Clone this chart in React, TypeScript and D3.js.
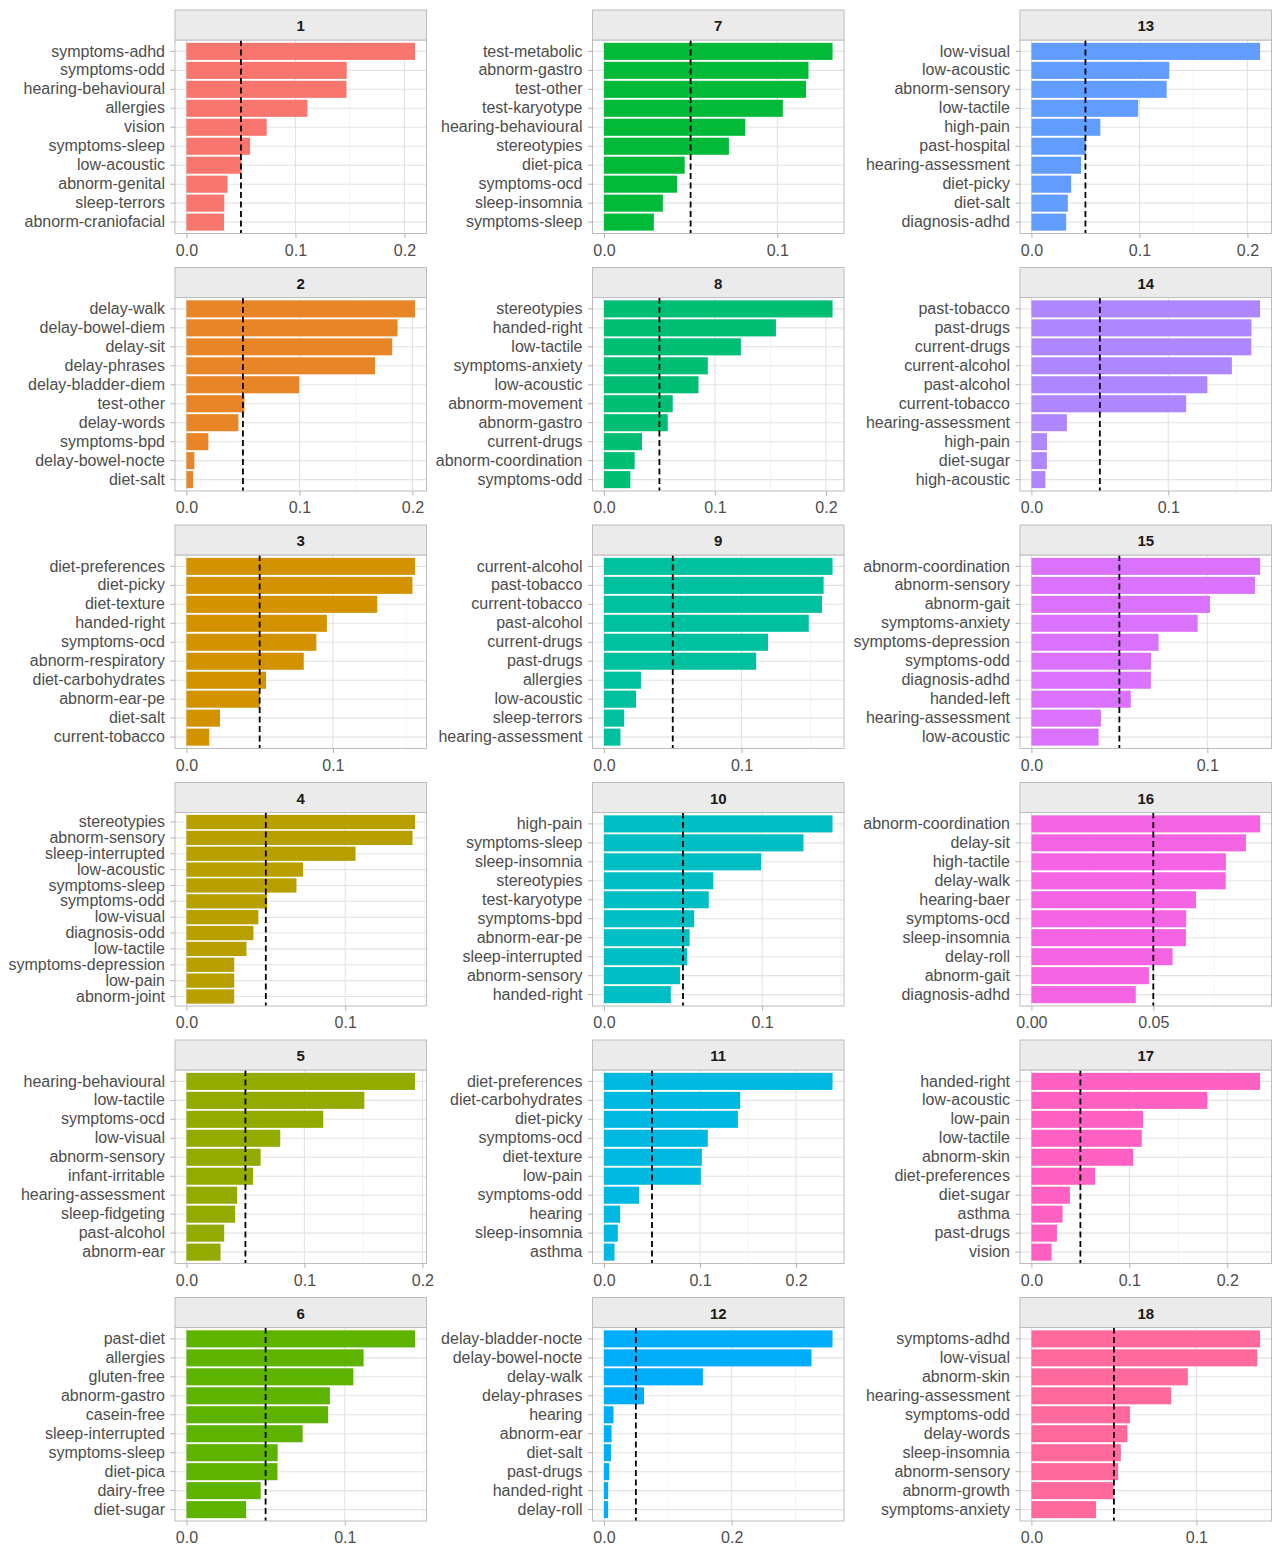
import React, { useRef, useEffect } from 'react';
import * as d3 from 'd3';

// feature importance per cluster, top to bottom as drawn
const features1 = ['symptoms-adhd', 'symptoms-odd', 'hearing-behavioural', 'allergies', 'vision', 'symptoms-sleep', 'low-acoustic', 'abnorm-genital', 'sleep-terrors', 'abnorm-craniofacial'];
const importance1 = [0.2097, 0.147, 0.1468, 0.111, 0.0736, 0.0584, 0.0505, 0.0377, 0.0347, 0.0345];

const features2 = ['delay-walk', 'delay-bowel-diem', 'delay-sit', 'delay-phrases', 'delay-bladder-diem', 'test-other', 'delay-words', 'symptoms-bpd', 'delay-bowel-nocte', 'diet-salt'];
const importance2 = [0.2023, 0.1868, 0.1821, 0.1669, 0.0997, 0.0513, 0.046, 0.0194, 0.007, 0.0059];

const features3 = ['diet-preferences', 'diet-picky', 'diet-texture', 'handed-right', 'symptoms-ocd', 'abnorm-respiratory', 'diet-carbohydrates', 'abnorm-ear-pe', 'diet-salt', 'current-tobacco'];
const importance3 = [0.1561, 0.1543, 0.1303, 0.0959, 0.0887, 0.0801, 0.0543, 0.0502, 0.0229, 0.0156];

const features4 = ['stereotypies', 'abnorm-sensory', 'sleep-interrupted', 'low-acoustic', 'symptoms-sleep', 'symptoms-odd', 'low-visual', 'diagnosis-odd', 'low-tactile', 'symptoms-depression', 'low-pain', 'abnorm-joint'];
const importance4 = [0.144, 0.1424, 0.1065, 0.0735, 0.0693, 0.0509, 0.0453, 0.0422, 0.0378, 0.0301, 0.0301, 0.0301];

const features5 = ['hearing-behavioural', 'low-tactile', 'symptoms-ocd', 'low-visual', 'abnorm-sensory', 'infant-irritable', 'hearing-assessment', 'sleep-fidgeting', 'past-alcohol', 'abnorm-ear'];
const importance5 = [0.1938, 0.1508, 0.116, 0.0795, 0.0629, 0.0565, 0.043, 0.0413, 0.032, 0.0289];

const features6 = ['past-diet', 'allergies', 'gluten-free', 'abnorm-gastro', 'casein-free', 'sleep-interrupted', 'symptoms-sleep', 'diet-pica', 'dairy-free', 'diet-sugar'];
const importance6 = [0.1444, 0.1119, 0.1054, 0.0906, 0.0895, 0.0734, 0.0576, 0.0575, 0.0469, 0.0377];

const features7 = ['test-metabolic', 'abnorm-gastro', 'test-other', 'test-karyotype', 'hearing-behavioural', 'stereotypies', 'diet-pica', 'symptoms-ocd', 'sleep-insomnia', 'symptoms-sleep'];
const importance7 = [0.1319, 0.118, 0.1166, 0.1032, 0.0815, 0.0721, 0.0466, 0.0422, 0.034, 0.0288];

const features8 = ['stereotypies', 'handed-right', 'low-tactile', 'symptoms-anxiety', 'low-acoustic', 'abnorm-movement', 'abnorm-gastro', 'current-drugs', 'abnorm-coordination', 'symptoms-odd'];
const importance8 = [0.206, 0.155, 0.1234, 0.0936, 0.0852, 0.062, 0.0575, 0.0343, 0.0277, 0.0238];

const features9 = ['current-alcohol', 'past-tobacco', 'current-tobacco', 'past-alcohol', 'current-drugs', 'past-drugs', 'allergies', 'low-acoustic', 'sleep-terrors', 'hearing-assessment'];
const importance9 = [0.1661, 0.1596, 0.1584, 0.1488, 0.1192, 0.1106, 0.0269, 0.0233, 0.0147, 0.012];

const features10 = ['high-pain', 'symptoms-sleep', 'sleep-insomnia', 'stereotypies', 'test-karyotype', 'symptoms-bpd', 'abnorm-ear-pe', 'sleep-interrupted', 'abnorm-sensory', 'handed-right'];
const importance10 = [0.1446, 0.1262, 0.0994, 0.0692, 0.0663, 0.0571, 0.0542, 0.0527, 0.0481, 0.0423];

const features11 = ['diet-preferences', 'diet-carbohydrates', 'diet-picky', 'symptoms-ocd', 'diet-texture', 'low-pain', 'symptoms-odd', 'hearing', 'sleep-insomnia', 'asthma'];
const importance11 = [0.2379, 0.1418, 0.1394, 0.1081, 0.1019, 0.1009, 0.0365, 0.0169, 0.0145, 0.011];

const features12 = ['delay-bladder-nocte', 'delay-bowel-nocte', 'delay-walk', 'delay-phrases', 'hearing', 'abnorm-ear', 'diet-salt', 'past-drugs', 'handed-right', 'delay-roll'];
const importance12 = [0.358, 0.325, 0.155, 0.0627, 0.015, 0.012, 0.011, 0.0083, 0.0067, 0.0066];

const features13 = ['low-visual', 'low-acoustic', 'abnorm-sensory', 'low-tactile', 'high-pain', 'past-hospital', 'hearing-assessment', 'diet-picky', 'diet-salt', 'diagnosis-adhd'];
const importance13 = [0.2117, 0.1276, 0.1252, 0.0988, 0.0638, 0.0503, 0.046, 0.0368, 0.0337, 0.0322];

const features14 = ['past-tobacco', 'past-drugs', 'current-drugs', 'current-alcohol', 'past-alcohol', 'current-tobacco', 'hearing-assessment', 'high-pain', 'diet-sugar', 'high-acoustic'];
const importance14 = [0.1671, 0.1608, 0.1607, 0.1465, 0.1286, 0.1131, 0.0259, 0.0114, 0.0113, 0.0102];

const features15 = ['abnorm-coordination', 'abnorm-sensory', 'abnorm-gait', 'symptoms-anxiety', 'symptoms-depression', 'symptoms-odd', 'diagnosis-adhd', 'handed-left', 'hearing-assessment', 'low-acoustic'];
const importance15 = [0.13, 0.1271, 0.1015, 0.0945, 0.0723, 0.068, 0.0679, 0.0565, 0.0395, 0.0382];

const features16 = ['abnorm-coordination', 'delay-sit', 'high-tactile', 'delay-walk', 'hearing-baer', 'symptoms-ocd', 'sleep-insomnia', 'delay-roll', 'abnorm-gait', 'diagnosis-adhd'];
const importance16 = [0.0938, 0.088, 0.0798, 0.0797, 0.0675, 0.0635, 0.0634, 0.0579, 0.0482, 0.0428];

const features17 = ['handed-right', 'low-acoustic', 'low-pain', 'low-tactile', 'abnorm-skin', 'diet-preferences', 'diet-sugar', 'asthma', 'past-drugs', 'vision'];
const importance17 = [0.2335, 0.1797, 0.114, 0.1127, 0.1039, 0.065, 0.0393, 0.0318, 0.026, 0.0206];

const features18 = ['symptoms-adhd', 'low-visual', 'abnorm-skin', 'hearing-assessment', 'symptoms-odd', 'delay-words', 'sleep-insomnia', 'abnorm-sensory', 'abnorm-growth', 'symptoms-anxiety'];
const importance18 = [0.1386, 0.1369, 0.0948, 0.0847, 0.0598, 0.0582, 0.0542, 0.0526, 0.0498, 0.0392];

const threshold = 0.05;

const panelTicks = [
  [0, 0.1, 0.2], [0, 0.1, 0.2], [0, 0.1], [0, 0.1], [0, 0.1, 0.2], [0, 0.1],
  [0, 0.1], [0, 0.1, 0.2], [0, 0.1], [0, 0.1], [0, 0.1, 0.2], [0, 0.2],
  [0, 0.1, 0.2], [0, 0.1], [0, 0.1], [0, 0.05], [0, 0.1, 0.2], [0, 0.1],
];
const panelTickLabels = [
  ['0.0', '0.1', '0.2'], ['0.0', '0.1', '0.2'], ['0.0', '0.1'], ['0.0', '0.1'], ['0.0', '0.1', '0.2'], ['0.0', '0.1'],
  ['0.0', '0.1'], ['0.0', '0.1', '0.2'], ['0.0', '0.1'], ['0.0', '0.1'], ['0.0', '0.1', '0.2'], ['0.0', '0.2'],
  ['0.0', '0.1', '0.2'], ['0.0', '0.1'], ['0.0', '0.1'], ['0.00', '0.05'], ['0.0', '0.1', '0.2'], ['0.0', '0.1'],
];

const allFeatures = [features1, features2, features3, features4, features5, features6, features7, features8, features9,
  features10, features11, features12, features13, features14, features15, features16, features17, features18];
const allImportance = [importance1, importance2, importance3, importance4, importance5, importance6, importance7, importance8, importance9,
  importance10, importance11, importance12, importance13, importance14, importance15, importance16, importance17, importance18];

// ggplot-style hue palette (polar LUV)
function hueColor(h: number, c = 100, l = 65) {
  const hr = (h * Math.PI) / 180;
  const U = c * Math.cos(hr), V = c * Math.sin(hr);
  const Xn = 95.047, Yn = 100, Zn = 108.883;
  const Y = l > 7.999592 ? Yn * Math.pow((l + 16) / 116, 3) : (Yn * l) / 903.3;
  const den = Xn + 15 * Yn + 3 * Zn;
  const un = (4 * Xn) / den, vn = (9 * Yn) / den;
  const Q = U / (13 * l) + un, R = V / (13 * l) + vn;
  const X = (9 * Y * Q) / (4 * R);
  const Z = -X / 3 - 5 * Y + (3 * Y) / R;
  const x = X / 100, y = Y / 100, z = Z / 100;
  const lin = [
    3.240479 * x - 1.53715 * y - 0.498535 * z,
    -0.969256 * x + 1.875992 * y + 0.041556 * z,
    0.055648 * x - 0.204043 * y + 1.057311 * z,
  ];
  const g = lin.map(u => {
    const v = u > 0.00304 ? 1.055 * Math.pow(u, 1 / 2.4) - 0.055 : 12.92 * u;
    return Math.round(255 * Math.max(0, Math.min(1, v)));
  });
  return d3.rgb(g[0], g[1], g[2]).formatHex();
}

const colLeft = [175, 592.5, 1020];
const panelW = 251.5;
const stripH = 30;
const panelH = 193.5;
const rowPitch = 257.5;

const App = () => {
  const svgRef = useRef<SVGSVGElement>(null);

  useEffect(() => {
    const svg = d3.select(svgRef.current);
    svg.selectAll('*').remove();

    allFeatures.forEach((labels, k) => {
      const values = allImportance[k];
      const ticks = panelTicks[k];
      const tickLabels = panelTickLabels[k];
      const col = Math.floor(k / 6);
      const row = k % 6;
      const left = colLeft[col];
      const right = left + panelW;
      const stripTop = 10 + rowPitch * row;
      const top = stripTop + stripH;
      const bottom = top + panelH;
      const color = hueColor(15 + 20 * k);

      const max = d3.max(values) as number;
      const x = d3.scaleLinear().domain([-0.05 * max, 1.05 * max]).range([left, right]);
      const y = d3.scaleBand().domain(labels).range([top, bottom]).paddingInner(0.1).paddingOuter(0.15);

      const g = svg.append('g');

      g.append('rect')
        .attr('x', left).attr('y', top)
        .attr('width', panelW).attr('height', panelH)
        .attr('fill', '#fff');

      // minor grid
      const step = ticks[1] - ticks[0];
      const [d0, d1] = x.domain();
      const minors = ticks.map(t => t + step / 2).concat([ticks[0] - step / 2]).filter(v => v > d0 && v < d1);
      g.selectAll('.minor').data(minors).enter().append('line')
        .attr('x1', d => x(d)).attr('x2', d => x(d))
        .attr('y1', top).attr('y2', bottom)
        .attr('stroke', '#EFEFEF').attr('stroke-width', 0.7);

      // major grid
      g.selectAll('.major').data(ticks.filter(t => t > d0 && t < d1)).enter().append('line')
        .attr('x1', d => x(d)).attr('x2', d => x(d))
        .attr('y1', top).attr('y2', bottom)
        .attr('stroke', '#E3E3E3').attr('stroke-width', 1.1);

      g.selectAll('.hgrid').data(labels).enter().append('line')
        .attr('x1', left).attr('x2', right)
        .attr('y1', d => (y(d) as number) + y.bandwidth() / 2)
        .attr('y2', d => (y(d) as number) + y.bandwidth() / 2)
        .attr('stroke', '#E3E3E3').attr('stroke-width', 1.1);

      g.selectAll('.bar').data(labels).enter().append('rect')
        .attr('x', x(0))
        .attr('y', d => y(d) as number)
        .attr('width', (d, i) => x(values[i]) - x(0))
        .attr('height', y.bandwidth())
        .attr('fill', color);

      g.append('line')
        .attr('x1', x(threshold)).attr('x2', x(threshold))
        .attr('y1', top).attr('y2', bottom)
        .attr('stroke', '#000').attr('stroke-width', 1.8)
        .attr('stroke-dasharray', '6 3.5');

      g.append('rect')
        .attr('x', left).attr('y', top)
        .attr('width', panelW).attr('height', panelH)
        .attr('fill', 'none').attr('stroke', '#BDBDBD').attr('stroke-width', 1);

      // strip
      g.append('rect')
        .attr('x', left).attr('y', stripTop)
        .attr('width', panelW).attr('height', stripH)
        .attr('fill', '#EBEBEB').attr('stroke', '#BDBDBD').attr('stroke-width', 1);
      g.append('text')
        .attr('x', left + panelW / 2).attr('y', stripTop + stripH / 2 + 1)
        .attr('dy', '0.36em')
        .attr('text-anchor', 'middle')
        .style('font-size', '15px').style('font-weight', 'bold')
        .style('fill', '#1A1A1A')
        .text(String(k + 1));

      const yAxis = g.append('g')
        .attr('transform', `translate(${left},0)`)
        .call(d3.axisLeft(y).tickSize(4.5).tickPadding(5.5));
      const xAxis = g.append('g')
        .attr('transform', `translate(0,${bottom})`)
        .call(d3.axisBottom(x).tickValues(ticks).tickFormat((d, i) => tickLabels[i]).tickSize(4.5).tickPadding(6.5));

      [yAxis, xAxis].forEach(a => {
        a.select('.domain').remove();
        a.selectAll('.tick line').attr('stroke', '#B3B3B3').attr('stroke-width', 1);
        a.selectAll('.tick text')
          .style('font-size', '16px')
          .style('font-family', '"Liberation Sans", Arial, sans-serif')
          .style('fill', '#4D4D4D');
      });
    });
  }, []);

  return (
    <div style={{ position: 'absolute', left: 0, top: 0 }}>
      <svg ref={svgRef} width={1280} height={1545}
        style={{ display: 'block', background: '#fff', fontFamily: '"Liberation Sans", Arial, sans-serif' }} />
    </div>
  );
};

export default App;
